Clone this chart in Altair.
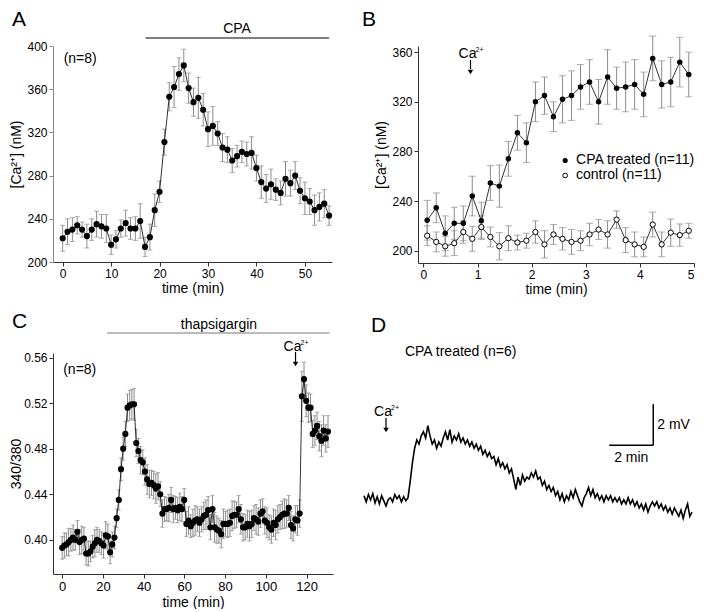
import altair as alt
import pandas as pd

FONT = "Liberation Sans"
GREY = "#8c8c8c"

# ---------------- Panel A : [Ca2+] vs time, CPA ----------------
a_time = list(range(56))
a_mean = [222, 228, 230, 234, 230, 224, 230, 235, 233, 231,
          216, 221, 231, 236, 231, 231, 238, 214, 223, 248,
          265, 311, 353, 362, 374, 382, 361, 348, 352, 341,
          323, 326, 319, 306, 304, 294, 298, 302, 300, 301,
          287, 274, 268, 272, 267, 264, 277, 273, 280, 266,
          259, 256, 248, 251, 254, 243]
a_err = [12, 12, 11, 8, 7, 11, 10, 12, 11, 13,
         9, 8, 8, 12, 10, 11, 16, 9, 12, 15,
         10, 12, 13, 19, 15, 15, 14, 13, 19, 15,
         16, 18, 11, 13, 12, 11, 10, 10, 11, 15,
         12, 15, 13, 14, 10, 11, 16, 12, 13, 12,
         15, 12, 14, 13, 13, 9]

# ---------------- Panel B : CPA treated vs control ----------------
b_time = [round(0.07 + i / 6, 3) for i in range(30)]
b_cpa = [224.5, 234.5, 214, 222, 222, 244, 224, 254.5, 252, 274,
         295, 287, 320, 325, 308, 322, 325, 332, 336, 320,
         340, 331, 332, 334, 326, 355, 334, 336, 352, 342]
b_cpa_err = [16, 12, 14, 13, 14, 16, 15, 14, 17, 14,
             14, 16, 16, 15, 12, 19, 20, 18, 18, 18,
             22, 17, 20, 20, 18, 18, 19, 20, 20, 18]
b_ctrl = [212, 207, 203.5, 206, 215, 209.5, 219, 211, 203.5, 210,
          206.5, 208, 215, 205, 213, 209.5, 207, 208, 213, 217,
          213, 225, 208.5, 205, 203, 221, 205, 214.5, 212.5, 216]
b_ctrl_err = [8, 8, 8, 10, 9, 10, 9, 8, 11, 10,
              6, 6, 9, 11, 8, 9, 10, 8, 9, 8,
              11, 7, 10, 10, 8, 10, 10, 11, 9, 6]
b_labels = ["CPA treated (n=11)", "control (n=11)"]

# ---------------- Panel C : 340/380 ratio, thapsigargin ----------------
c_step = 1.07
c_mean = [0.393, 0.395, 0.396, 0.398, 0.400, 0.402, 0.400, 0.407, 0.398, 0.400,
          0.401, 0.388, 0.388, 0.390, 0.394, 0.397, 0.400, 0.399, 0.397, 0.395,
          0.404, 0.403, 0.389, 0.396,
          0.402, 0.419, 0.435, 0.462, 0.480, 0.493, 0.516, 0.518, 0.519, 0.519,
          0.485, 0.478, 0.470, 0.468, 0.460, 0.453, 0.449, 0.450, 0.448, 0.445,
          0.447, 0.440,
          0.423, 0.427, 0.427, 0.428, 0.435, 0.427, 0.428, 0.426, 0.429, 0.427,
          0.435,
          0.414, 0.417, 0.412, 0.415, 0.417, 0.418, 0.415, 0.418, 0.421, 0.422,
          0.426, 0.411, 0.427, 0.411, 0.409, 0.408, 0.405, 0.414, 0.414, 0.414,
          0.415, 0.421, 0.422, 0.422, 0.427, 0.418, 0.411, 0.411, 0.414, 0.412,
          0.414, 0.419, 0.418, 0.416, 0.423, 0.425, 0.417, 0.415, 0.411, 0.409,
          0.415, 0.413, 0.418, 0.420, 0.422, 0.423, 0.423, 0.428, 0.413, 0.410,
          0.418, 0.417, 0.423,
          0.526, 0.541, 0.522, 0.516, 0.516, 0.493, 0.496, 0.500, 0.491, 0.487,
          0.496, 0.489, 0.495]
c_err = [0.010, 0.011, 0.010, 0.012, 0.010, 0.011, 0.009, 0.010, 0.011, 0.012,
         0.010, 0.010, 0.011, 0.009, 0.010, 0.012, 0.011, 0.010, 0.010, 0.011,
         0.012, 0.011, 0.010, 0.011,
         0.010, 0.008, 0.009, 0.010, 0.010, 0.011, 0.012, 0.013, 0.013, 0.014,
         0.012, 0.011, 0.012, 0.011, 0.012, 0.013, 0.012, 0.011, 0.012, 0.013,
         0.012, 0.011,
         0.012, 0.011, 0.010, 0.012, 0.011, 0.012, 0.010, 0.011, 0.012, 0.011,
         0.010,
         0.011, 0.012, 0.010, 0.012, 0.013, 0.011, 0.012, 0.011, 0.012, 0.013,
         0.012, 0.011, 0.012, 0.013, 0.012, 0.011, 0.012, 0.013, 0.011, 0.012,
         0.012, 0.013, 0.012, 0.011, 0.012, 0.013, 0.012, 0.011, 0.012, 0.013,
         0.012, 0.011, 0.013, 0.012, 0.012, 0.011, 0.012, 0.013, 0.011, 0.012,
         0.012, 0.013, 0.012, 0.011, 0.012, 0.013, 0.012, 0.011, 0.012, 0.011,
         0.012, 0.013, 0.012,
         0.022, 0.015, 0.014, 0.013, 0.012, 0.012, 0.013, 0.012, 0.013, 0.014,
         0.013, 0.012, 0.014]
c_time = [round(i * c_step, 2) for i in range(len(c_mean))]

# ---------------- Panel D : membrane potential trace ----------------
d_step = 0.1
d_mv = [0.1, -0.2, 0.15, -0.1, 0.2, -0.25, 0.05, -0.3, 0.1, -0.15,
        -0.4, -0.1, 0.0, -0.2, 0.15, -0.05, 0.1, -0.2, 0.05, -0.15, 0.0,
        0.8, 1.7, 2.4, 2.8, 2.6, 3.0, 3.2, 2.9, 3.5, 3.0,
        2.6, 2.8, 2.4, 2.7, 2.5, 2.9, 3.2, 2.8, 3.3, 2.7,
        3.0, 2.8, 3.1, 2.7, 2.9, 2.6, 2.8, 2.5, 2.7, 2.4,
        2.6, 2.3, 2.5, 2.1, 2.3, 2.0, 2.2, 1.9, 2.0, 1.6,
        1.9, 1.5, 1.7, 1.4, 1.6, 1.2, 1.4, 0.9, 0.4, 1.0,
        0.6, 1.1, 0.8, 1.0, 0.9, 1.2, 1.0, 1.3, 0.9, 1.0,
        0.6, 0.8, 0.4, 0.6, 0.3,
        0.5, 0.1, 0.3, -0.1, 0.2, -0.2, 0.1, -0.1, 0.3, 0.0,
        0.4, 0.1, -0.2, -0.4, 0.0, 0.2, 0.5, 0.1, 0.4, 0.0,
        0.2, -0.1, 0.1, -0.2, 0.1, -0.1, 0.1, -0.2, 0.0, -0.2,
        0.0, -0.3, -0.1, -0.3, 0.0, -0.3, -0.1, -0.4, -0.2, -0.5,
        -0.3, -0.6, -0.3, -0.7, -0.4, -0.2, -0.4, -0.2, -0.5, -0.3,
        -0.6, -0.4, -0.7, -0.5, -0.8, -0.5, -0.7, -0.9, -0.6, -1.0,
        -0.6, -0.3, -0.9, -0.7]
d_time = [round(i * d_step, 2) for i in range(len(d_mv))]


def err_frame(x, m, e):
    return pd.DataFrame({"x": x, "y": m,
                         "lo": [a - b for a, b in zip(m, e)],
                         "hi": [a + b for a, b in zip(m, e)]})


def one(**kw):
    return pd.DataFrame({k: [v] for k, v in kw.items()})


def axis(values, title, fmt=None, dom="#333333", lsize=12, tpad=2):
    kw = dict(values=values, title=title, domainColor=dom, tickColor=dom,
              tickSize=4, labelPadding=2, titlePadding=tpad, labelFontSize=lsize,
              labelFont=FONT, titleFont=FONT, titleFontSize=14, labelColor="black",
              titleColor="black", titleFontWeight="normal", grid=False,
              domainWidth=1, tickWidth=1)
    if fmt:
        kw["format"] = fmt
    return alt.Axis(**kw)


def make_enc(xs, ys, ax, ay):
    def X(f):
        return alt.X(f"{f}:Q", scale=xs, axis=ax)

    def Y(f):
        return alt.Y(f"{f}:Q", scale=ys, axis=ay)
    return X, Y


def text(df, X, Y, s, size=14, align="left", baseline="middle", dx=0, dy=0,
         xval=None, yval=None):
    enc = {}
    enc["x"] = alt.value(xval) if xval is not None else X("x")
    enc["y"] = alt.value(yval) if yval is not None else Y("y")
    return alt.Chart(df).mark_text(text=s, font=FONT, fontSize=size, align=align,
                                   baseline=baseline, dx=dx, dy=dy,
                                   color="black").encode(**enc)


def ca_arrow(xv, X, ytext, yshaft0, yshaft1, yhead):
    df = one(x=xv)
    t1 = alt.Chart(df).mark_text(text="Ca", font=FONT, fontSize=14, align="center",
                                 baseline="middle", dx=-3,
                                 color="black").encode(x=X("x"), y=alt.value(ytext))
    t2 = alt.Chart(df).mark_text(text="2+", font=FONT, fontSize=7, align="left",
                                 baseline="middle", dx=5, dy=-4,
                                 color="black").encode(x=X("x"), y=alt.value(ytext))
    shaft = alt.Chart(df).mark_rule(color="black", strokeWidth=1.2).encode(
        x=X("x"), y=alt.value(yshaft0), y2=alt.value(yshaft1))
    head = alt.Chart(df).mark_point(shape="triangle-down", filled=True, color="black",
                                    size=30, opacity=1).encode(
        x=X("x"), y=alt.value(yhead))
    return [t1, t2, shaft, head]


def panel_letter(s, xpx, ypx):
    return alt.Chart(one(x=0)).mark_text(text=s, font=FONT, fontSize=21, align="left",
                                         baseline="alphabetic", color="black").encode(
        x=alt.value(xpx), y=alt.value(ypx))


def left_anchor(xpx):
    # invisible layout anchor so both rows line up on their plot areas
    return alt.Chart(one(x=0)).mark_rule(opacity=0, strokeWidth=1).encode(
        x=alt.value(xpx), y=alt.value(0), y2=alt.value(10))


# ================= Panel A =================
xsA = alt.Scale(domain=[-2, 55.6], nice=False, zero=False)
ysA = alt.Scale(domain=[200, 400], nice=False, zero=False)
XA, YA = make_enc(xsA, ysA,
                  axis([0, 10, 20, 30, 40, 50], "time (min)", tpad=2),
                  axis([200, 240, 280, 320, 360, 400], "[Ca²⁺] (nM)", dom="#888888", tpad=3))
dA = err_frame(a_time, a_mean, a_err)
A = alt.layer(
    alt.Chart(dA).mark_errorbar(ticks=True, color=GREY, thickness=1, size=5).encode(
        x=XA("x"), y=YA("lo"), y2="hi:Q"),
    alt.Chart(dA).mark_line(color="black", strokeWidth=0.8).encode(x=XA("x"), y=YA("y")),
    alt.Chart(dA).mark_circle(color="black", size=38, opacity=1).encode(x=XA("x"), y=YA("y")),
    text(one(x=0.2, y=388), XA, YA, "(n=8)"),
    alt.Chart(one(x=17.1, x2=55.0)).mark_rule(color="black", strokeWidth=1).encode(
        x=XA("x"), x2="x2:Q", y=alt.value(-8)),
    text(one(x=36.0), XA, YA, "CPA", align="center", yval=-17),
    panel_letter("A", -41, -20),
    left_anchor(-52),
).properties(width=279, height=216)

# ================= Panel B =================
xsB = alt.Scale(domain=[-0.1, 5.0], nice=False, zero=False)
ysB = alt.Scale(domain=[190, 365], nice=False, zero=False)
XB, YB = make_enc(xsB, ysB,
                  axis([0, 1, 2, 3, 4, 5], "time (min)", tpad=2),
                  axis([200, 240, 280, 320, 360], "[Ca²⁺] (nM)", tpad=3))
dB1 = err_frame(b_time, b_cpa, b_cpa_err)
dB2 = err_frame(b_time, b_ctrl, b_ctrl_err)
B = alt.layer(
    alt.Chart(dB2).mark_errorbar(ticks=True, color=GREY, thickness=1, size=7).encode(
        x=XB("x"), y=YB("lo"), y2="hi:Q"),
    alt.Chart(dB1).mark_errorbar(ticks=True, color=GREY, thickness=1, size=7).encode(
        x=XB("x"), y=YB("lo"), y2="hi:Q"),
    alt.Chart(dB2).mark_line(color="black", strokeWidth=0.8).encode(x=XB("x"), y=YB("y")),
    alt.Chart(dB1).mark_line(color="black", strokeWidth=0.8).encode(x=XB("x"), y=YB("y")),
    alt.Chart(dB2).mark_point(shape="circle", fill="white", stroke="black", strokeWidth=1,
                              size=28, opacity=1, filled=True).encode(x=XB("x"), y=YB("y")),
    alt.Chart(dB1).mark_circle(color="black", size=30, opacity=1).encode(x=XB("x"), y=YB("y")),
    # legend
    alt.Chart(one(x=2.62, y=272.7)).mark_circle(color="black", size=26, opacity=1).encode(
        x=XB("x"), y=YB("y")),
    alt.Chart(one(x=2.62, y=260.6)).mark_point(shape="circle", fill="white", stroke="black",
                                               strokeWidth=1, size=22, opacity=1,
                                               filled=True).encode(x=XB("x"), y=YB("y")),
    text(one(x=2.82, y=272.7), XB, YB, b_labels[0]),
    text(one(x=2.82, y=260.6), XB, YB, b_labels[1]),
    *ca_arrow(0.87, XB, 8, 14, 23, 26),
    panel_letter("B", -56, -20),
).properties(width=276, height=217)

# ================= Panel C =================
xsC = alt.Scale(domain=[-4.5, 133], nice=False, zero=False)
ysC = alt.Scale(domain=[0.37, 0.564], nice=False, zero=False)
XC, YC = make_enc(xsC, ysC,
                  axis([0, 20, 40, 60, 80, 100, 120], "time (min)", tpad=2, lsize=13),
                  axis([0.40, 0.44, 0.48, 0.52, 0.56], "340/380", fmt=".2f", tpad=0, lsize=12))
dC = err_frame(c_time, c_mean, c_err)
C = alt.layer(
    alt.Chart(dC).mark_errorbar(ticks=True, color=GREY, thickness=1, size=4).encode(
        x=XC("x"), y=YC("lo"), y2="hi:Q"),
    alt.Chart(dC).mark_line(color="black", strokeWidth=0.8).encode(x=XC("x"), y=YC("y")),
    alt.Chart(dC).mark_circle(color="black", size=38, opacity=1).encode(x=XC("x"), y=YC("y")),
    text(one(x=0.5, y=0.549), XC, YC, "(n=8)"),
    alt.Chart(one(x=22.1, x2=131.3)).mark_rule(color="#777777", strokeWidth=1).encode(
        x=XC("x"), x2="x2:Q", y=alt.value(-20)),
    text(one(x=77.0), XC, YC, "thapsigargin", align="center", yval=-28),
    *ca_arrow(114.6, XC, -6, -1, 9, 11),
    panel_letter("C", -41, -25),
    left_anchor(-52),
).properties(width=280, height=221)

# ================= Panel D =================
xsD = alt.Scale(domain=[0, 14.9], nice=False, zero=False)
ysD = alt.Scale(domain=[-3.7, 7.02], nice=False, zero=False)
XD, YD = make_enc(xsD, ysD, None, None)
dD = pd.DataFrame({"x": d_time, "y": d_mv})
D = alt.layer(
    alt.Chart(dD).mark_line(color="black", strokeWidth=1.6).encode(x=XD("x"), y=YD("y")),
    alt.Chart(one(x=11.14, x2=13.14, y=2.54)).mark_rule(color="black", strokeWidth=1.5).encode(
        x=XD("x"), x2="x2:Q", y=YD("y")),
    alt.Chart(one(x=13.14, y=2.54, y2=4.54)).mark_rule(color="black", strokeWidth=1.5).encode(
        x=XD("x"), y=YD("y"), y2="y2:Q"),
    text(one(x=13.32, y=3.51), XD, YD, "2 mV"),
    text(one(x=12.14, y=1.95), XD, YD, "2 min", align="center"),
    text(one(x=1.86, y=7.07), XD, YD, "CPA treated (n=6)"),
    *ca_arrow(1.0, XD, 59, 65, 75, 77),
    panel_letter("D", 7, -21),
).properties(width=328, height=221)

row1 = alt.hconcat(A, B, spacing=86, bounds="flush")
row2 = alt.hconcat(C, D, spacing=31, bounds="flush")
chart = alt.vconcat(row1, row2, spacing=15).properties(
    padding={"left": -7, "top": 1, "right": 0, "bottom": 0}
).configure_view(stroke=None)

chart.save("out.html", embed_options={"renderer": "svg", "actions": False})
